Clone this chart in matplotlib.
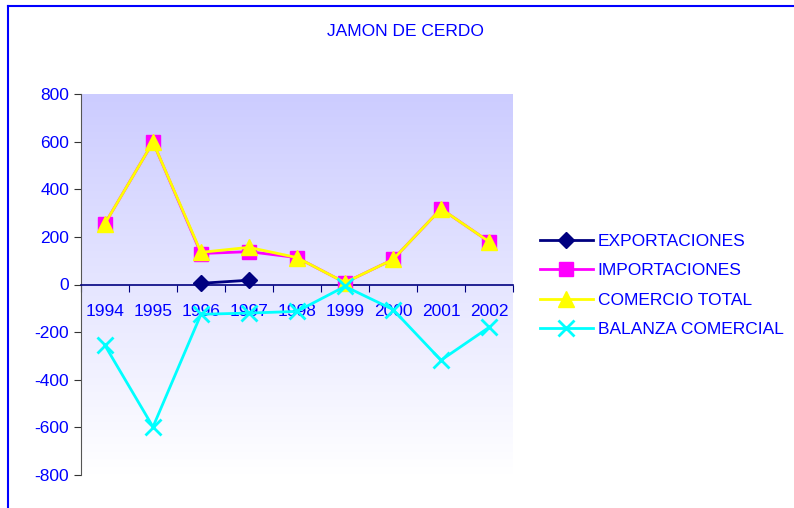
import numpy as np
import matplotlib
matplotlib.use('Agg')
import matplotlib.pyplot as plt
from matplotlib.lines import Line2D

years = ['1994', '1995', '1996', '1997', '1998', '1999', '2000', '2001', '2002']
exportaciones = [np.nan, np.nan, 5, 18, np.nan, np.nan, np.nan, np.nan, np.nan]
importaciones = [256, 598, 130, 138, 113, 8, 105, 318, 180]
comercio_total = [256, 598, 135, 156, 113, 8, 105, 318, 180]
balanza = [-256, -598, -125, -120, -113, -8, -105, -318, -180]

plt.rcParams['font.family'] = ['Liberation Sans', 'DejaVu Sans']
plt.rcParams['axes.unicode_minus'] = False
blue_txt = '#0000ff'
fs = 12.5
W, H = 794, 508

fig = plt.figure(figsize=(W / 100, H / 100), dpi=100)
ax = fig.add_axes([81 / W, 1 - 475 / H, 432 / W, 381 / H])

# background gradient
grad = np.linspace(0, 1, 256).reshape(-1, 1)
top = np.array([204, 204, 255]) / 255
bot = np.array([255, 255, 255]) / 255
img = top + (bot - top) * grad[:, :, None]
ax.imshow(img, extent=[-0.5, 8.5, -800, 800], aspect='auto', zorder=0)

x = np.arange(len(years))
ax.plot(x, exportaciones, color='#000080', lw=2, marker='D', ms=8, label='EXPORTACIONES', zorder=5)
ax.plot(x, importaciones, color='#ff00ff', lw=2, marker='s', ms=10, label='IMPORTACIONES', zorder=3)
ax.plot(x, comercio_total, color='#ffff00', lw=2, marker='^', ms=11, label='COMERCIO TOTAL', zorder=4)
ax.plot(x, balanza, color='#00ffff', lw=2, marker='x', ms=11, mew=2, label='BALANZA COMERCIAL', zorder=4)

ax.set_xlim(-0.5, 8.5)
ax.set_ylim(-800, 800)
ax.set_yticks(range(-800, 801, 200))
ax.tick_params(axis='y', colors='#333333', labelcolor=blue_txt, labelsize=fs, length=5, direction='out')

ax.spines['top'].set_visible(False)
ax.spines['right'].set_visible(False)
ax.spines['left'].set_color('#555555')
ax.spines['bottom'].set_position(('data', 0))
ax.spines['bottom'].set_color('#000080')
ax.spines['bottom'].set_linewidth(1.2)
ax.set_xticks(np.arange(-0.5, 9, 1))
ax.set_xticklabels([])
ax.set_xticks(x, minor=True)
ax.set_xticklabels(years, minor=True)
ax.tick_params(axis='x', which='major', colors='#000080', length=5, direction='out')
ax.tick_params(axis='x', which='minor', length=0, pad=14, labelcolor=blue_txt, labelsize=fs)

fig.text(405 / W, 1 - 31 / H, 'JAMON DE CERDO', color=blue_txt, fontsize=fs, ha='center', va='center')

leg = ax.legend(loc='center left', bbox_to_anchor=(524 / W, 1 - 285.5 / H), bbox_transform=fig.transFigure,
                frameon=False, fontsize=fs, handlelength=3.05, labelspacing=0.82, handletextpad=0.3)
for t in leg.get_texts():
    t.set_color(blue_txt)

# chart area border (left and top)
fig.add_artist(Line2D([8 / W, 8 / W], [0, 1 - 6 / H], color='#0000ff', lw=1.5, transform=fig.transFigure))
fig.add_artist(Line2D([8 / W, 1], [1 - 6 / H, 1 - 6 / H], color='#0000ff', lw=1.5, transform=fig.transFigure))

fig.savefig('out.png', dpi=100)
